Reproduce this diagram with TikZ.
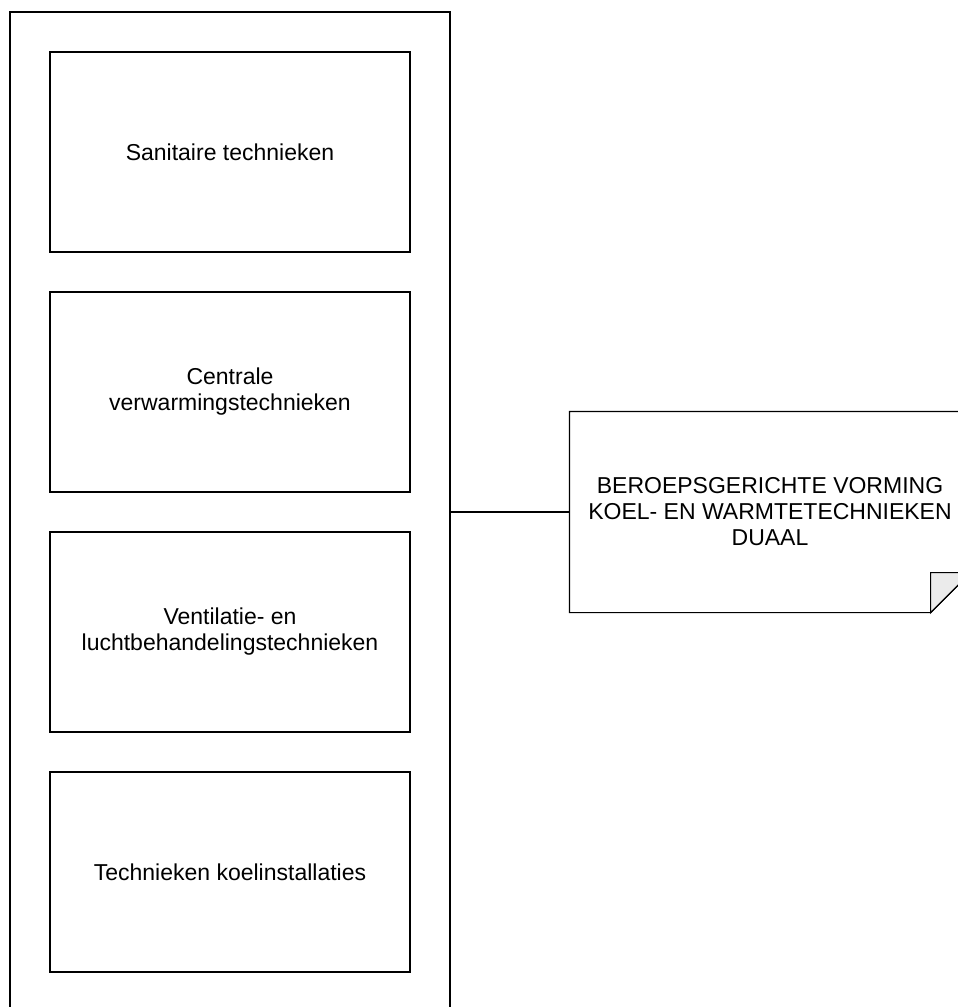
\documentclass[tikz,border=0pt]{standalone}
\usepackage{fontspec}
\setmainfont{Liberation Sans}
\usetikzlibrary{positioning}

\begin{document}
\begin{tikzpicture}[x=1pt, y=-1pt, line width=1.2pt,
        vak/.style={draw, minimum width=360pt, minimum height=200pt, align=center, font=\fontsize{23}{26}\selectfont}]
                \useasboundingbox (0,0) rectangle (958,1007);
                \node[draw, minimum width=440pt, minimum height=1000pt] (houder) at (230,512) {};
                \node[vak] (sanitair) at (230,152) {Sanitaire technieken};
                \node[vak] (verwarming) at (230,392) {Centrale\\verwarmingstechnieken};
                \node[vak] (ventilatie) at (230,632) {Ventilatie- en\\luchtbehandelingstechnieken};
                \node[vak] (koeling) at (230,872) {Technieken koelinstallaties};
                % notitie met omgevouwen hoek
                \node[minimum width=400pt, minimum height=200pt, align=center, font=\fontsize{23}{26}\selectfont] (richting) at (770,512) {BEROEPSGERICHTE VORMING\\KOEL- EN WARMTETECHNIEKEN\\DUAAL};
                \draw (richting.north west) -- (richting.north east) -- ([yshift=40pt]richting.south east) -- ([xshift=-40pt]richting.south east) -- (richting.south west) -- cycle;
                \draw[fill=black!8] ([xshift=-40pt]richting.south east) -- ([xshift=-40pt, yshift=40pt]richting.south east) -- ([yshift=40pt]richting.south east) -- cycle;
                \draw (houder.east) -- (richting.west);
            \end{tikzpicture}
\end{document}
